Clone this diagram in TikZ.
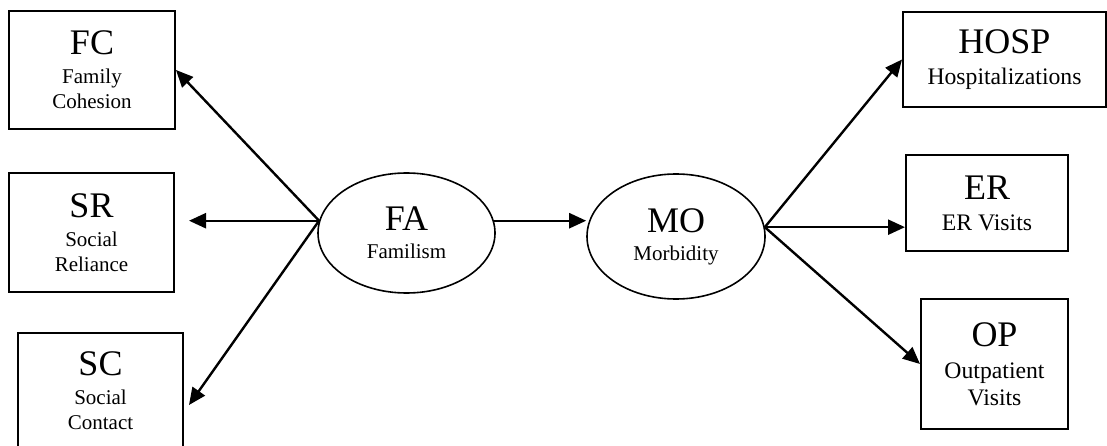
\documentclass[tikz,border=0pt]{standalone}
\usepackage{fontspec}
\setmainfont{Liberation Serif}
\usetikzlibrary{arrows.meta,shapes.geometric,calc}
\newcommand{\bigname}{\fontsize{36}{40}\selectfont}
\tikzstyle{every var} = []
\tikzstyle{obs} = [rectangle, draw, black, line width=2pt, align=center, inner sep=0pt,
                   font=\fontsize{21}{25}\selectfont, every var]
\tikzstyle{obsr} = [obs, font=\fontsize{23.7}{27}\selectfont]
\tikzstyle{latent} = [ellipse, draw, black, line width=1.6pt, align=center, inner sep=0pt,
                   font=\fontsize{21}{25}\selectfont, every var]
\tikzset{
    effect/.style = {-{Triangle[length=17pt,width=15pt]}, line width=2.4pt, black}
}
\begin{document}
\begin{tikzpicture}[x=1pt,y=-1pt]
        \useasboundingbox (0,0) rectangle (1107,446);

        %% Latent variables
        \node[latent,minimum width=177pt,minimum height=120pt]  (FA) at (406.5,233)   {{\bigname FA}\\[3pt]Familism};
        \node[latent,minimum width=178pt,minimum height=125pt]  (MO) at (676,236.5)   {{\bigname MO}\\[3pt]Morbidity};

        %% Familism indicators
        \node[obs,minimum width=166pt,minimum height=118pt]  (FC) at (92,70)      {{\bigname FC}\\[4pt]Family\\Cohesion};
        \node[obs,minimum width=165pt,minimum height=119pt]  (SR) at (91.5,232.5) {{\bigname SR}\\[4pt]Social\\Reliance};
        \node[obs,minimum width=165pt,minimum height=116pt]  (SC) at (100.5,391)  {{\bigname SC}\\[4pt]Social\\Contact};

        %% Morbidity indicators
        \node[obsr,minimum width=203pt,minimum height=95pt]   (HOSP) at (1004.5,59.5) {{\bigname HOSP}\\[4pt]Hospitalizations};
        \node[obsr,minimum width=162pt,minimum height=96pt]   (ER)   at (987,203)     {{\bigname ER}\\[4pt]ER Visits};
        \node[obsr,minimum width=147pt,minimum height=130pt]  (OP)   at (994.5,364)   {{\bigname OP}\\[5pt]Outpatient\\Visits};

        \path   [effect]
                (FA.172) edge []  (FC.east)
                (FA.172) edge []  ($(FA.172 -| SR.east)+(14,0)$)
                (FA.172) edge []  ($(SC.east)+(5,14)$);

        \path   [effect]
                (FA.8) edge []  (FA.8 -| MO.west);

        \path   [effect]
                (MO.6) edge []  (HOSP.west)
                (MO.6) edge []  (MO.6 -| ER.west)
                (MO.6) edge []  (OP.west);
\end{tikzpicture}
\end{document}
